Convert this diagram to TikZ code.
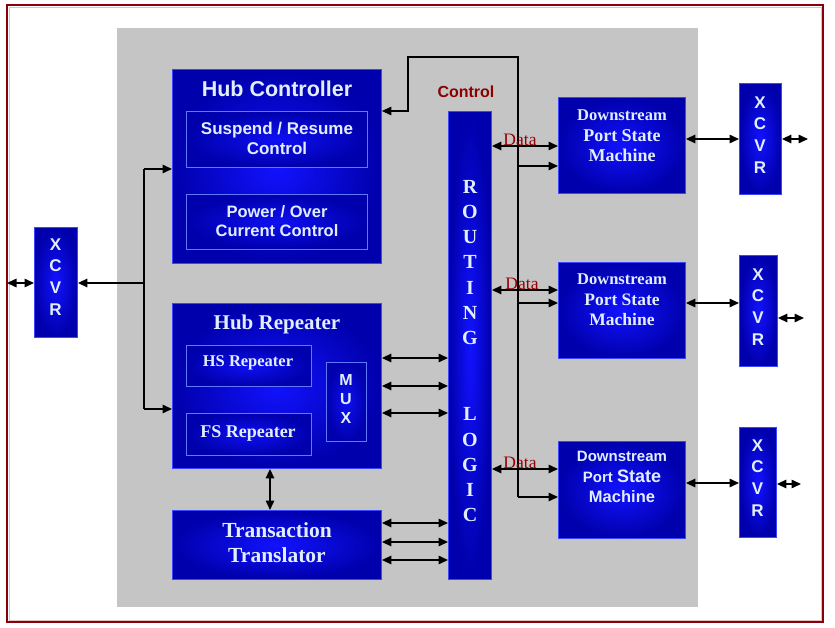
\documentclass[tikz,border=0pt]{standalone}
\usepackage{fontspec}
\setmainfont{Liberation Sans}
\newfontfamily\serifb{Liberation Serif}
\usetikzlibrary{arrows.meta}
\definecolor{frame}{RGB}{135,0,10}
\definecolor{panel}{RGB}{197,197,197}
\definecolor{bdark}{RGB}{0,0,172}
\definecolor{bbright}{RGB}{18,18,255}
\definecolor{bedge}{RGB}{60,70,255}
\definecolor{iedge}{RGB}{95,120,255}
\definecolor{txt}{RGB}{225,238,255}
\definecolor{ctlred}{RGB}{140,0,0}
\definecolor{datared}{RGB}{150,0,0}
\tikzset{
  blk/.style={draw=bedge, line width=0.9pt, inner color=bbright, outer color=bdark, anchor=north west, inner sep=0pt},
  iblk/.style={draw=iedge, line width=0.9pt, inner color=bbright!85!bdark, outer color=bdark, anchor=north west, inner sep=0pt},
  sansb/.style={text=txt, align=center, inner sep=0pt, font=\bfseries\fontsize{#1}{#1}\selectfont},
  serb/.style={text=txt, align=center, inner sep=0pt, font=\serifb\bfseries\fontsize{#1}{#1}\selectfont},
  wire/.style={line width=1.5pt, black},
  datalbl/.style={text=datared, font=\serifb\fontsize{17.5}{20}\selectfont, inner sep=0pt},
  >={Triangle[length=9.5pt,width=8.5pt]},
}
\begin{document}
\begin{tikzpicture}[x=1pt,y=-1pt]
\useasboundingbox (0,0) rectangle (835,628);
\fill[white] (0,0) rectangle (835,628);
% frame and panel
\draw[frame!25, line width=0.8pt] (9,7) rectangle (821,620);
\draw[frame, line width=2pt] (7,5) rectangle (823,622);
\fill[panel] (117,28) rectangle (698,607);

% Hub controller
\node[blk, minimum width=209pt, minimum height=194pt] (hc) at (172,69) {};
\node[sansb=21.5] (hct) at (277,89) {Hub Controller};
\node[iblk, minimum width=181pt, minimum height=56pt] (sr) at (186,111) {};
\node[sansb=17, font=\bfseries\fontsize{17}{20}\selectfont] (srt) at (277,138) {Suspend / Resume\\Control};
\node[iblk, minimum width=181pt, minimum height=55pt] (pc) at (186,194) {};
\node[sansb=16.5, font=\bfseries\fontsize{16.5}{19.5}\selectfont] (pct) at (277,221) {Power / Over\\Current Control};

% Hub repeater
\node[blk, minimum width=209pt, minimum height=165pt] (hr) at (172,303) {};
\node[serb=21] (hrt) at (277,324) {Hub Repeater};
\node[iblk, minimum width=125pt, minimum height=41pt] (hs) at (186,345) {};
\node[serb=16.5] (hst) at (248,363) {HS Repeater};
\node[iblk, minimum width=125pt, minimum height=42pt] (fs) at (186,413) {};
\node[serb=18] (fst) at (248,433) {FS Repeater};
\node[iblk, minimum width=40pt, minimum height=79pt] (mux) at (326,362) {};
\node[sansb=16, font=\bfseries\fontsize{16}{19}\selectfont] (muxt) at (346,399) {M\\U\\X};

% Transaction translator
\node[blk, minimum width=209pt, minimum height=69pt] (tt) at (172,510) {};
\node[serb=21.5, font=\serifb\bfseries\fontsize{21.5}{25}\selectfont] (ttt) at (277,543) {Transaction\\Translator};

% Routing logic
\node[blk, minimum width=43pt, minimum height=468pt] (rl) at (448,111) {};
\node[serb=20, font=\serifb\bfseries\fontsize{20}{25.3}\selectfont] (rlt) at (470,351) {R\\O\\U\\T\\I\\N\\G\\[50.6pt]L\\O\\G\\I\\C};

% Downstream port state machines
\node[blk, minimum width=127pt, minimum height=96pt] (d1) at (558,97) {};
\node[serb=16.5, font=\serifb\bfseries\fontsize{17}{20.5}\selectfont] (d1t) at (622,136) {{\fontsize{16.5}{20.5}\selectfont Downstream}\\{\fontsize{18}{20.5}\selectfont Port State}\\{\fontsize{18}{20.5}\selectfont Machine}};
\node[blk, minimum width=127pt, minimum height=96pt] (d2) at (558,262) {};
\node[serb=16.5, font=\serifb\bfseries\fontsize{17}{20.5}\selectfont] (d2t) at (622,300) {{\fontsize{16.5}{20.5}\selectfont Downstream}\\{\fontsize{17.5}{20.5}\selectfont Port State}\\{\fontsize{17.5}{20.5}\selectfont Machine}};
\node[blk, minimum width=127pt, minimum height=97pt] (d3) at (558,441) {};
\node[sansb=15, font=\bfseries\fontsize{15}{20.5}\selectfont] (d3t) at (622,477) {Downstream\\Port {\fontsize{18}{20.5}\selectfont State}\\{\fontsize{16.5}{20.5}\selectfont Machine}};

% XCVRs
\node[blk, minimum width=42pt, minimum height=111pt] (x1) at (739,83) {};
\node[sansb=17, font=\bfseries\fontsize{17}{21.8}\selectfont] (x1t) at (760,135) {X\\C\\V\\R};
\node[blk, minimum width=38pt, minimum height=111pt] (x2) at (739,255) {};
\node[sansb=17, font=\bfseries\fontsize{17}{21.8}\selectfont] (x2t) at (758,307) {X\\C\\V\\R};
\node[blk, minimum width=37pt, minimum height=110pt] (x3) at (739,427) {};
\node[sansb=17, font=\bfseries\fontsize{17}{21.8}\selectfont] (x3t) at (757.5,478) {X\\C\\V\\R};
\node[blk, minimum width=43pt, minimum height=110pt] (xl) at (34,227) {};
\node[sansb=17, font=\bfseries\fontsize{17}{21.8}\selectfont] (xlt) at (55.5,277) {X\\C\\V\\R};

% Left side connections
\coordinate (jl) at (144,283);
\coordinate (jt) at (144,169);
\coordinate (jb) at (144,409);
\coordinate (le) at (7,283);
\draw[wire, <->] (le) -- (xl.west |- le);
\draw[wire, ->] (jl) -- (xl.east |- jl);
\draw[wire] (jt) -- (jb);
\draw[wire, ->] (jt) -- (hc.west |- jt);
\draw[wire, ->] (jb) -- (hr.west |- jb);

% Hub repeater <-> TT
\draw[wire, <->] (hr.south -| 270,0) -- (tt.north -| 270,0);

% Hub repeater / TT <-> routing
\foreach \yy in {358,386,413} \draw[wire, <->] (hr.east |- 0,\yy) -- (rl.west |- 0,\yy);
\foreach \yy in {523,542,560} \draw[wire, <->] (tt.east |- 0,\yy) -- (rl.west |- 0,\yy);

% Control wire
\coordinate (cb) at (518,497);
\coordinate (ct) at (518,57);
\coordinate (cl) at (408,57);
\coordinate (cd) at (408,111);
\draw[wire, line width=1.2pt, ->] (cb) -- (ct) -- (cl) -- (cd) -- (hc.east |- cd);
\node[text=ctlred, font=\bfseries\fontsize{16}{19}\selectfont, inner sep=0pt] (ctl) at (466,92) {Control};
\coordinate (b1) at (518,166);
\coordinate (b2) at (518,303);
\draw[wire, ->] (b1) -- (d1.west |- b1);
\draw[wire, ->] (b2) -- (d2.west |- b2);
\draw[wire, ->] (cb) -- (d3.west |- cb);

% Data arrows
\draw[wire, <->] (rl.east |- 0,146) -- (d1.west |- 0,146);
\draw[wire, <->] (rl.east |- 0,290) -- (d2.west |- 0,290);
\draw[wire, <->] (rl.east |- 0,469) -- (d3.west |- 0,469);
\node[datalbl] (dl1) at (520,140) {Data};
\node[datalbl] (dl2) at (522,284) {Data};
\node[datalbl] (dl3) at (520,463) {Data};

% DSPSM <-> XCVR
\draw[wire, <->] (d1.east |- 0,139) -- (x1.west |- 0,139);
\draw[wire, <->] (d2.east |- 0,303) -- (x2.west |- 0,303);
\draw[wire, <->] (d3.east |- 0,483) -- (x3.west |- 0,483);

% outer small arrows
\coordinate (o1) at (808,139);
\coordinate (o2) at (804,318);
\coordinate (o3) at (801,484);
\draw[wire, <->] (x1.east |- o1) -- (o1);
\draw[wire, <->] (x2.east |- o2) -- (o2);
\draw[wire, <->] (x3.east |- o3) -- (o3);
\end{tikzpicture}
\end{document}
